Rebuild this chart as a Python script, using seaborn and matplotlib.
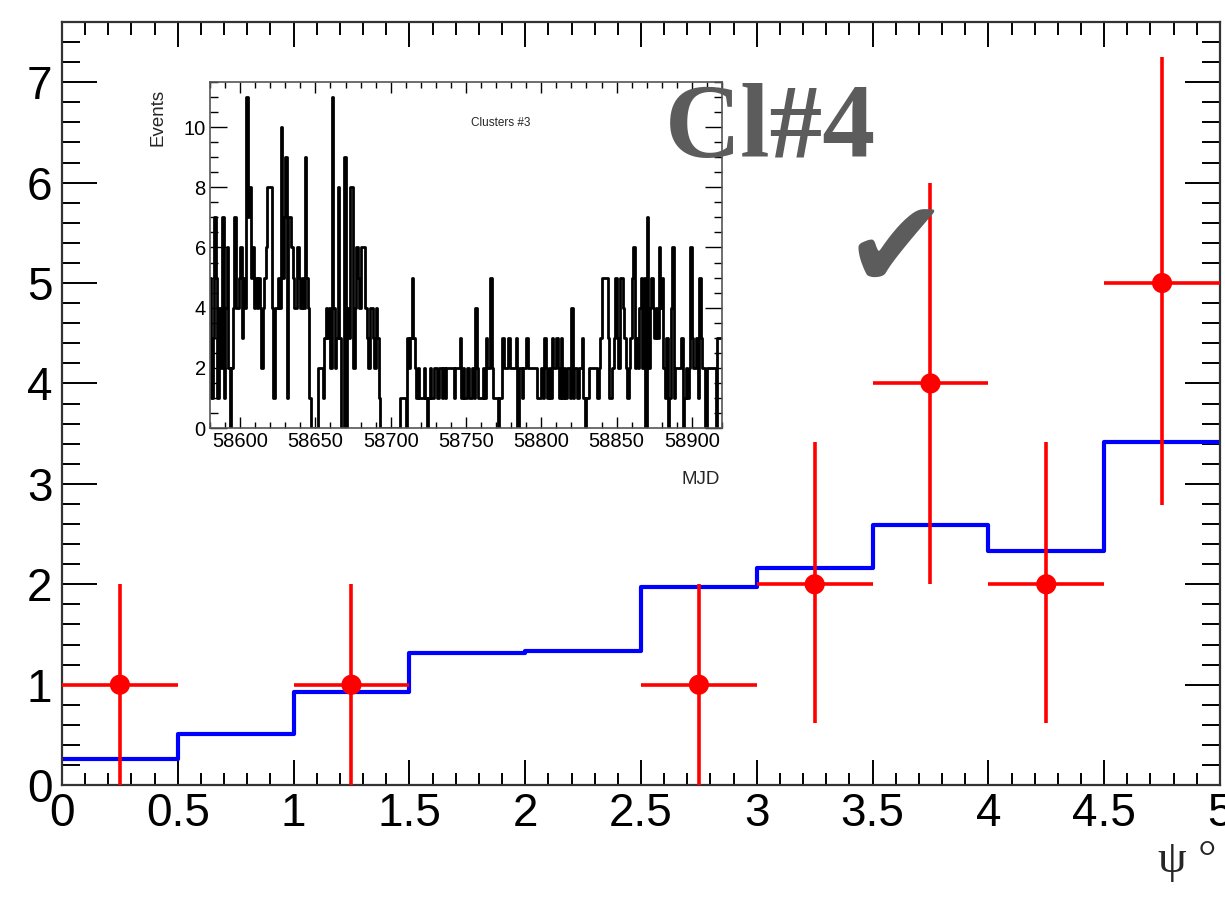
import numpy as np
import matplotlib
matplotlib.use("Agg")
import matplotlib.pyplot as plt
from matplotlib.ticker import MultipleLocator
import seaborn as sns

# main plot: psi bins, expected (blue) and observed (red)
psi_edges = [0, 0.5, 1, 1.5, 2, 2.5, 3, 3.5, 4, 4.5, 5]
expected = [0.26, 0.51, 0.93, 1.32, 1.34, 1.97, 2.16, 2.59, 2.33, 3.42]

obs_psi = [0.25, 1.25, 2.75, 3.25, 3.75, 4.25, 4.75]
obs_counts = [1, 1, 1, 2, 4, 2, 5]
obs_err_lo = [1, 1, 1, 1.38, 2.0, 1.38, 2.21]
obs_err_hi = [1, 1, 1, 1.42, 2.0, 1.42, 2.25]

# inset: daily events, MJD 58580 .. 58919
mjd_start = 58580
daily_events = [
    5, 1, 3, 7, 5, 1, 4, 2, 7, 1,
    4, 6, 2, 0, 2, 4, 7, 4, 4, 5,
    6, 3, 5, 4, 11, 7, 8, 5, 6, 4,
    5, 4, 5, 4, 2, 4, 5, 6, 8, 8,
    8, 4, 1, 4, 4, 5, 4, 10, 5, 7,
    9, 1, 7, 7, 6, 5, 4, 4, 6, 5,
    4, 5, 4, 9, 5, 4, 1, 0, 0, 0,
    0, 0, 2, 2, 2, 1, 3, 4, 3, 4,
    2, 11, 4, 2, 3, 8, 3, 0, 0, 9,
    0, 4, 3, 8, 8, 2, 4, 6, 5, 4,
    6, 6, 6, 4, 3, 2, 4, 4, 3, 2,
    4, 3, 1, 0, 0, 0, 0, 0, 0, 0,
    0, 0, 0, 0, 0, 0, 1, 1, 1, 1,
    0, 3, 2, 3, 5, 3, 2, 1, 2, 1,
    1, 1, 2, 1, 0, 1, 2, 1, 1, 2,
    2, 1, 2, 2, 1, 2, 1, 2, 2, 2,
    2, 2, 1, 2, 2, 2, 3, 1, 2, 1,
    1, 2, 1, 1, 2, 1, 4, 2, 1, 1,
    1, 2, 1, 3, 2, 2, 5, 2, 1, 1,
    1, 0, 1, 1, 3, 2, 2, 2, 3, 2,
    2, 2, 2, 3, 0, 2, 2, 1, 2, 2,
    3, 2, 2, 2, 2, 2, 2, 1, 1, 1,
    2, 1, 3, 2, 1, 2, 1, 3, 2, 2,
    3, 2, 1, 3, 1, 2, 1, 2, 2, 1,
    4, 1, 2, 2, 1, 2, 2, 3, 1, 0,
    1, 1, 2, 2, 2, 2, 2, 1, 2, 3,
    5, 5, 5, 5, 3, 1, 1, 2, 3, 5,
    3, 2, 5, 5, 4, 3, 2, 1, 2, 3,
    5, 6, 2, 3, 2, 4, 5, 2, 5, 0,
    7, 2, 4, 5, 4, 3, 4, 3, 6, 4,
    5, 2, 1, 3, 0, 1, 4, 6, 1, 2,
    2, 2, 2, 3, 0, 1, 2, 1, 2, 6,
    3, 2, 2, 3, 1, 5, 3, 2, 2, 0,
    2, 2, 2, 2, 2, 2, 0, 3, 3, 3,
]

sns.set_style("ticks")
plt.rcParams['font.family'] = ['Liberation Sans', 'DejaVu Sans']

fig = plt.figure(figsize=(12.25, 9.14), dpi=100)
ax = fig.add_axes([0.0506, 0.141, 0.9453, 0.835])

psi_centers = [(a + b) / 2 for a, b in zip(psi_edges[:-1], psi_edges[1:])]
sns.histplot(x=psi_centers, weights=expected, bins=psi_edges, element="step",
             fill=False, color="#0000ff", linewidth=3, ax=ax)

ax.errorbar(obs_psi, obs_counts, xerr=0.25, yerr=[obs_err_lo, obs_err_hi],
            fmt='none', ecolor='#ff0000', elinewidth=2.6, capsize=0, zorder=4)
sns.scatterplot(x=obs_psi, y=obs_counts, color='#ff0000', s=210,
                edgecolor='none', zorder=5, ax=ax)

ax.set_xlim(0, 5)
ax.set_ylim(0, 7.6)
ax.set_xlabel("")
ax.set_ylabel("")
ax.xaxis.set_minor_locator(MultipleLocator(0.1))
ax.yaxis.set_major_locator(MultipleLocator(1))
ax.yaxis.set_minor_locator(MultipleLocator(0.2))
ax.set_xticks([0, 0.5, 1, 1.5, 2, 2.5, 3, 3.5, 4, 4.5, 5])
ax.set_xticklabels(['0', '0.5', '1', '1.5', '2', '2.5', '3', '3.5', '4', '4.5', '5'])
ax.tick_params(which='both', direction='in', top=True, right=True,
               width=1.4, colors='black', labelsize=33)
ax.tick_params(axis='y', which='major', length=25, pad=7)
ax.tick_params(axis='y', which='minor', length=13)
ax.tick_params(axis='x', which='major', length=18, pad=5)
ax.tick_params(axis='x', which='minor', length=9)
for s in ax.spines.values():
    s.set_linewidth(1.6)
    s.set_color('#333333')

fig.text(0.945, 0.035, "ψ °", fontsize=33, family=['Liberation Serif', 'DejaVu Serif'],
         ha='left', va='bottom')

fig.text(0.543, 0.828, "Cl#4", fontsize=76,
         family=['Liberation Serif', 'DejaVu Serif'], fontweight='bold',
         color='#5c5c5c', ha='left', va='baseline')
fig.text(0.689, 0.655, "\u2714", fontsize=90,
         family=['DejaVu Sans'], color='#5c5c5c', ha='left', va='bottom')

# inset
ins = fig.add_axes([0.1714, 0.5317, 0.418, 0.3786])
day_edges = [mjd_start + i for i in range(len(daily_events) + 1)]
day_centers = [d + 0.5 for d in day_edges[:-1]]
sns.histplot(x=day_centers, weights=daily_events, bins=day_edges, element="step",
             fill=False, color="black", linewidth=2.0, ax=ins)
ins.set_xlim(58580, 58920)
ins.set_ylim(0, 11.5)
ins.set_xlabel("")
ins.set_ylabel("")
ins.xaxis.set_major_locator(MultipleLocator(50))
ins.xaxis.set_minor_locator(MultipleLocator(10))
ins.yaxis.set_major_locator(MultipleLocator(2))
ins.yaxis.set_minor_locator(MultipleLocator(0.5))
ins.tick_params(which='both', direction='in', top=True, right=True,
                width=1.0, labelsize=14.5, colors='black')
ins.tick_params(axis='y', which='major', length=12, pad=3)
ins.tick_params(axis='y', which='minor', length=6)
ins.tick_params(axis='x', which='major', length=8, pad=3)
ins.tick_params(axis='x', which='minor', length=4)
for s in ins.spines.values():
    s.set_linewidth(1.2)
    s.set_color('#555555')

fig.text(0.129, 0.872, "Events", rotation=90, fontsize=13.5, ha='center', va='center')
fig.text(0.572, 0.475, "MJD", fontsize=13.5, ha='center', va='center')
fig.text(0.409, 0.865, "Clusters #3", fontsize=8.5, ha='center', va='center')

fig.savefig("out.png", dpi=100)
